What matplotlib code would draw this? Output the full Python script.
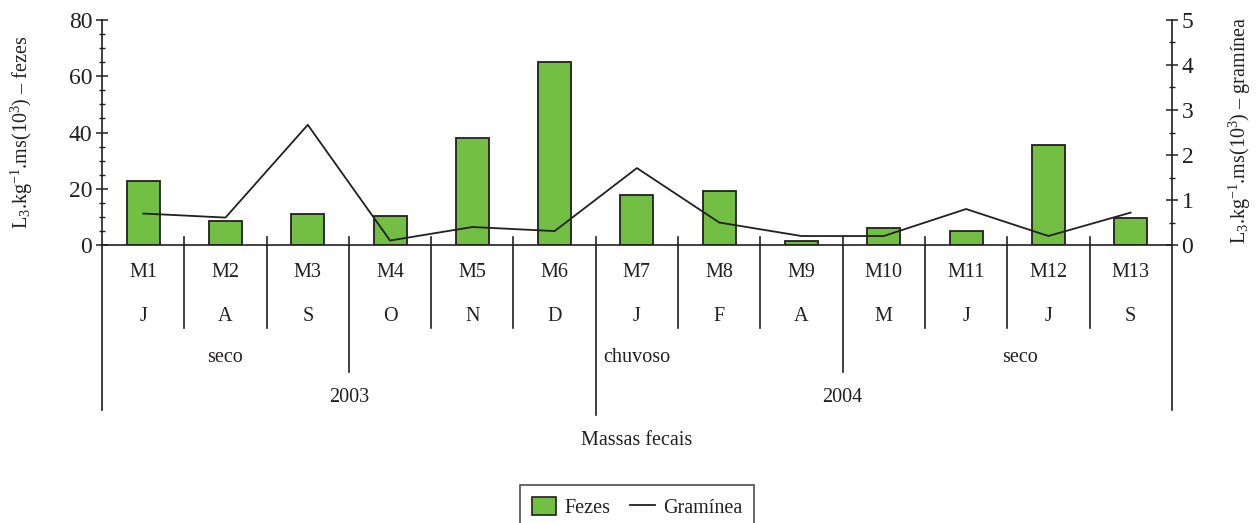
import numpy as np
import matplotlib
matplotlib.use("Agg")
import matplotlib.pyplot as plt
from matplotlib.patches import Patch
from matplotlib.lines import Line2D
from matplotlib.ticker import MultipleLocator

plt.rcParams['font.family'] = ['Liberation Serif', 'DejaVu Serif']
plt.rcParams['mathtext.fontset'] = 'custom'
plt.rcParams['mathtext.rm'] = 'Liberation Serif'
plt.rcParams['mathtext.it'] = 'Liberation Serif:italic'

# amostras de massas fecais, meses de coleta
amostras = ['M1', 'M2', 'M3', 'M4', 'M5', 'M6', 'M7',
            'M8', 'M9', 'M10', 'M11', 'M12', 'M13']
meses = ['J', 'A', 'S', 'O', 'N', 'D', 'J', 'F', 'A', 'M', 'J', 'J', 'S']
# L3 por kg de materia seca (x10^3)
fezes = [22.6, 8.6, 10.9, 10.2, 38.0, 65.0, 17.9, 19.3, 1.3, 5.9, 5.0, 35.5, 9.7]
graminea = [0.70, 0.61, 2.67, 0.10, 0.40, 0.31, 1.71, 0.50, 0.20, 0.20, 0.80, 0.20, 0.72]

# estacoes e anos: (texto, posicao x)
estacoes = [('seco', 1.0), ('chuvoso', 6.0), ('seco', 10.65)]
anos = [('2003', 2.5), ('2004', 8.5)]

escuro = '#231f20'
verde = '#72bf44'
fs = 14.5

fig = plt.figure(figsize=(12.6, 5.23), dpi=100)
ax = fig.add_axes([0.081, 0.5315, 0.849, 0.4303])
ax2 = ax.twinx()

x = np.arange(len(amostras))
ax.bar(x, fezes, width=0.4, color=verde, edgecolor=escuro, linewidth=1.3, zorder=2)
ax2.plot(x, graminea, color=escuro, lw=1.3, zorder=3)

ax.set_xlim(-0.5, len(amostras) - 0.5)
ax.set_ylim(0, 80)
ax2.set_ylim(0, 5)
ax.yaxis.set_major_locator(MultipleLocator(20))
ax.yaxis.set_minor_locator(MultipleLocator(5))
ax2.yaxis.set_major_locator(MultipleLocator(1))
ax2.yaxis.set_minor_locator(MultipleLocator(0.5))
ax.set_xticks([])

for a in (ax, ax2):
    a.spines['top'].set_visible(False)
    for s in a.spines.values():
        s.set_color(escuro)
        s.set_linewidth(1.2)
    a.tick_params(axis='y', which='major', direction='inout', length=8,
                  width=1.1, color=escuro, labelsize=17, labelcolor=escuro, pad=3)
    a.tick_params(axis='y', which='minor', direction='inout', length=4,
                  width=1.0, color=escuro)
ax.spines['right'].set_visible(False)
ax2.spines['left'].set_visible(False)
ax2.spines['bottom'].set_visible(False)

# eixo categorico abaixo do grafico
tr = ax.get_xaxis_transform()
def vline(xv, y0, y1):
    ax.plot([xv, xv], [y0, y1], color=escuro, lw=1.2, transform=tr, clip_on=False)

for i in range(len(amostras) - 1):
    xb = i + 0.5
    if xb == 5.5:
        vline(xb, 0.036, -0.756)
    elif xb in (2.5, 8.5):
        vline(xb, 0.036, -0.564)
    else:
        vline(xb, 0.036, -0.369)
vline(-0.5, 0, -0.733)
vline(len(amostras) - 0.5, 0, -0.733)

for i in x:
    ax.text(i, -0.124, amostras[i], transform=tr, ha='center', va='center',
            fontsize=fs, color=escuro)
    ax.text(i, -0.316, meses[i], transform=tr, ha='center', va='center',
            fontsize=fs, color=escuro)
for txt, xv in estacoes:
    ax.text(xv, -0.498, txt, transform=tr, ha='center', va='center',
            fontsize=fs, color=escuro)
for txt, xv in anos:
    ax.text(xv, -0.676, txt, transform=tr, ha='center', va='center',
            fontsize=fs, color=escuro)
ax.text(6.0, -0.867, 'Massas fecais', transform=tr, ha='center', va='center',
        fontsize=fs, color=escuro)

fig.text(22 / 1260, 1 - 132 / 523, r'L$_3$.kg$^{-1}$.ms(10$^3$) – fezes',
         rotation=90, ha='center', va='center', fontsize=fs, color=escuro)
fig.text(1240 / 1260, 1 - 130 / 523, r'L$_3$.kg$^{-1}$.ms(10$^3$) – gramínea',
         rotation=90, ha='center', va='center', fontsize=fs, color=escuro)

handles = [Patch(facecolor=verde, edgecolor=escuro, linewidth=1.2, label='Fezes'),
           Line2D([], [], color=escuro, lw=1.3, label='Gramínea')]
leg = fig.legend(handles=handles, loc='upper center', bbox_to_anchor=(637 / 1260, 1 - 485 / 523),
                 ncol=2, frameon=True, fancybox=False, fontsize=fs, handlelength=1.2,
                 handleheight=1.0, handletextpad=0.4, columnspacing=1.0, borderpad=0.6,
                 borderaxespad=0)
leg.get_frame().set_edgecolor(escuro)
leg.get_frame().set_linewidth(1.2)
for t in leg.get_texts():
    t.set_color(escuro)

fig.savefig('out.png', dpi=100)
